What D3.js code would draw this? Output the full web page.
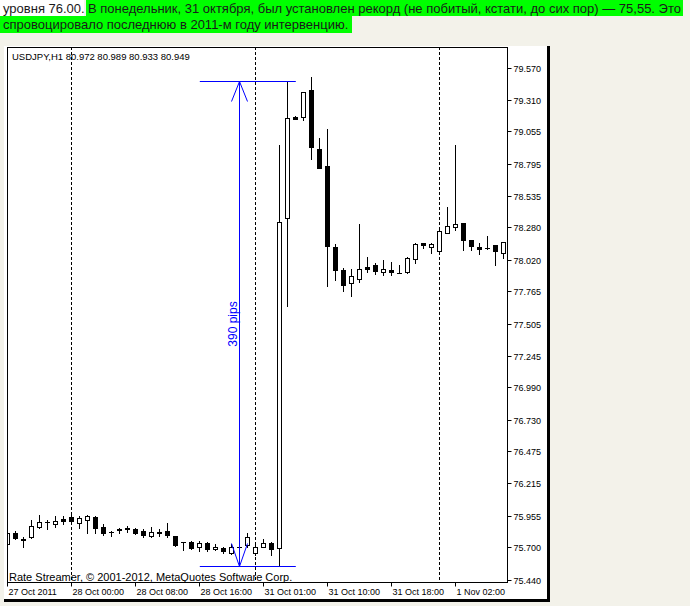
<html>
<head>
<script src="https://d3js.org/d3.v7.min.js"></script>
<style>
body { margin: 0; background: #f3f2ea; }
svg { display: block; }
text { font-family: "Liberation Sans", Arial, sans-serif; }
</style>
</head>
<body>
<script>
// USDJPY H1 bars, 27 Oct 16:00 .. 1 Nov
var opens = [75.726,75.813,75.767,75.780,75.861,75.900,75.888,75.926,75.947,75.898,
             75.920,75.947,75.861,75.826,75.845,75.853,75.845,75.834,75.791,75.821,
             75.834,75.791,75.742,75.745,75.705,75.737,75.684,75.697,75.651,75.705,
             75.722,75.651,75.705,75.737,75.692,78.354,79.173,79.173,79.389,78.913,
             78.775,78.120,77.937,77.829,77.864,77.958,77.977,77.923,77.937,77.913,
             77.923,78.023,78.152,78.120,78.092,78.237,78.281,78.313,78.179,78.120,
             78.117,78.138,78.076];
var highs = [75.826,75.831,75.785,75.920,75.960,75.920,75.952,75.952,75.960,75.952,
             75.960,75.952,75.888,75.834,75.858,75.872,75.853,75.845,75.866,75.845,
             75.898,75.791,75.745,75.751,75.751,75.745,75.726,75.705,75.726,75.726,
             75.813,75.740,75.764,75.745,78.945,79.460,79.176,79.370,79.496,79.004,
             79.074,78.146,77.950,77.945,78.308,78.044,77.995,78.017,78.003,77.977,
             78.039,78.157,78.157,78.157,78.259,78.447,78.945,78.313,78.179,78.152,
             78.211,78.138,78.165];
var lows = [75.656,75.764,75.705,75.772,75.853,75.845,75.866,75.888,75.893,75.853,
            75.813,75.818,75.799,75.791,75.813,75.826,75.807,75.785,75.785,75.791,
            75.785,75.710,75.678,75.684,75.672,75.672,75.678,75.656,75.646,75.694,
            75.705,75.640,75.705,75.638,75.550,77.646,79.155,79.150,78.830,78.762,
            77.810,77.856,77.770,77.729,77.842,77.923,77.902,77.896,77.896,77.913,
            77.910,77.991,78.112,78.076,78.066,78.233,78.259,78.098,78.098,78.066,
            78.104,77.977,78.036];
var closes = [75.813,75.772,75.762,75.872,75.906,75.903,75.914,75.914,75.909,75.934,
              75.952,75.853,75.813,75.824,75.843,75.851,75.818,75.801,75.826,75.813,
              75.799,75.718,75.740,75.692,75.732,75.684,75.705,75.672,75.705,75.703,
              75.783,75.705,75.737,75.684,78.326,79.160,79.157,79.370,78.926,78.762,
              78.133,77.937,77.816,77.888,77.942,77.947,77.931,77.945,77.923,77.915,
              78.031,78.146,78.136,78.146,78.249,78.291,78.308,78.179,78.133,78.109,
              78.115,78.092,78.160];

var priceTicks = [79.570,79.310,79.055,78.795,78.535,78.280,78.020,77.765,77.505,
                  77.245,76.990,76.730,76.475,76.215,75.955,75.700,75.440];
var timeLabels = ["27 Oct 2011","28 Oct 00:00","28 Oct 08:00","28 Oct 16:00",
                  "31 Oct 01:00","31 Oct 10:00","31 Oct 18:00","1 Nov 02:00"];
var timeBars = [0,8,16,24,32,40,48,56];
var daySeparators = [8,31,54];

// the 390 pips measurement
var recordLow = 75.55;
var recordHigh = 79.46;
var measureBars = [24.1, 29, 36.1];
var measureText = "390 pips";

var width = 690;
var height = 606;
var plot = {left: 7, top: 47, right: 507, bottom: 582};

var xScale = d3.scaleLinear()
               .domain([0, 62])
               .range([7, 503]);
var yScale = d3.scaleLinear()
               .domain([75.44, 79.57])
               .range([579.5, 67.5]);

var crisp = function(v) { return Math.round(v) + 0.5; };

var svg = d3.select("body")
            .append("svg")
            .attr("width", width)
            .attr("height", height);

var drawHeader = function()
{
    svg.append("rect").attr("x", 0).attr("y", 0).attr("width", 84).attr("height", 16)
       .attr("fill", "#ffffff");
    svg.append("rect").attr("x", 86).attr("y", 0).attr("width", 597).attr("height", 16)
       .attr("fill", "#00ff00");
    svg.append("rect").attr("x", 0).attr("y", 16).attr("width", 352).attr("height", 17)
       .attr("fill", "#00ff00");

    var t = svg.append("g")
               .attr("font-size", 13)
               .attr("fill", "#1a1a1a");
    t.append("text").attr("x", 3).attr("y", 12.5).text("уровня 76.00.");
    t.append("text").attr("x", 88).attr("y", 12.5)
     .text("В понедельник, 31 октября, был установлен рекорд (не побитый, кстати, до сих пор) — 75,55. Это");
    t.append("text").attr("x", 3).attr("y", 28.5)
     .text("спровоцировало последнюю в 2011-м году интервенцию.");
}

var drawWindow = function()
{
    svg.append("rect").attr("x", 4).attr("y", 46).attr("width", 543).attr("height", 553)
       .attr("fill", "#ffffff");
    svg.append("rect").attr("x", 547).attr("y", 46).attr("width", 3).attr("height", 556)
       .attr("fill", "#000000");
    svg.append("rect").attr("x", 4).attr("y", 599).attr("width", 546).attr("height", 3)
       .attr("fill", "#000000");
}

var drawCandles = function()
{
    svg.append("clipPath")
       .attr("id", "plotclip")
       .append("rect")
       .attr("x", plot.left).attr("y", plot.top)
       .attr("width", plot.right - plot.left).attr("height", plot.bottom - plot.top);

    var g = svg.append("g").attr("clip-path", "url(#plotclip)");

    g.selectAll(".sep")
     .data(daySeparators)
     .enter()
     .append("line")
     .attr("class", "sep")
     .attr("x1", function(d) { return crisp(xScale(d)); })
     .attr("x2", function(d) { return crisp(xScale(d)); })
     .attr("y1", plot.top)
     .attr("y2", plot.bottom)
     .attr("stroke", "black")
     .attr("stroke-dasharray", "3,2");

    var bars = g.selectAll(".bar")
                .data(opens)
                .enter()
                .append("g")
                .attr("class", "bar");

    bars.append("line")
        .attr("x1", function(d, i) { return Math.round(xScale(i)) + 0.5; })
        .attr("x2", function(d, i) { return Math.round(xScale(i)) + 0.5; })
        .attr("y1", function(d, i) { return Math.round(yScale(highs[i])); })
        .attr("y2", function(d, i) { return Math.round(yScale(lows[i])) + 1; })
        .attr("stroke", "black");

    bars.each(function(d, i)
    {
        var cx = Math.round(xScale(i));
        var yt = Math.round(yScale(Math.max(opens[i], closes[i])));
        var yb = Math.round(yScale(Math.min(opens[i], closes[i])));
        var up = closes[i] >= opens[i];
        if (yb - yt < 1)
        {
            d3.select(this).append("line")
              .attr("x1", cx - 2).attr("x2", cx + 3)
              .attr("y1", yt + 0.5).attr("y2", yt + 0.5)
              .attr("stroke", "black");
        }
        else
        {
            d3.select(this).append("rect")
              .attr("x", cx - 1.5)
              .attr("y", yt + 0.5)
              .attr("width", 4)
              .attr("height", yb - yt)
              .attr("fill", up ? "white" : "black")
              .attr("stroke", "black");
        }
    });
}

var drawMeasure = function()
{
    var m = svg.append("g")
               .attr("stroke", "#0000ff")
               .attr("fill", "none");
    var xa = xScale(measureBars[0]), xm = crisp(xScale(measureBars[1])), xb = xScale(measureBars[2]);
    var yh = crisp(yScale(recordHigh)), yl = crisp(yScale(recordLow));

    m.append("line").attr("x1", xa).attr("x2", xb).attr("y1", yh).attr("y2", yh);
    m.append("line").attr("x1", xa).attr("x2", xb).attr("y1", yl).attr("y2", yl);
    m.append("line").attr("x1", xm).attr("x2", xm).attr("y1", yh).attr("y2", yl);
    m.append("path").attr("d", "M" + (xm - 8) + "," + (yh + 20) + "L" + xm + "," + yh + "L" + (xm + 8) + "," + (yh + 20));
    m.append("path").attr("d", "M" + (xm - 8) + "," + (yl - 23) + "L" + xm + "," + yl + "L" + (xm + 8) + "," + (yl - 23));

    svg.append("text")
       .attr("transform", "translate(" + (xm - 3) + "," + ((yh + yl) / 2) + ") rotate(-90)")
       .attr("text-anchor", "middle")
       .attr("font-size", 12)
       .attr("fill", "#0000ff")
       .text(measureText);
}

var drawAxes = function()
{
    var yAxis = d3.axisRight(yScale)
                  .tickValues(priceTicks)
                  .tickSize(4)
                  .tickPadding(2)
                  .tickFormat(d3.format(".3f"));
    var ya = svg.append("g")
                .attr("transform", "translate(" + (plot.right + 0.5) + ",0)")
                .call(yAxis);
    ya.select(".domain").remove();
    ya.selectAll(".tick").attr("transform", function(d) { return "translate(0," + crisp(yScale(d)) + ")"; });
    ya.selectAll("text").attr("font-size", 9).attr("font-family", "Liberation Sans, Arial, sans-serif")
      .attr("fill", "#000").attr("dy", "0.36em");
    ya.selectAll("line").attr("stroke", "#000");

    var xAxis = d3.axisBottom(xScale)
                  .tickValues(timeBars)
                  .tickSize(4)
                  .tickPadding(2)
                  .tickFormat(function(d, i) { return timeLabels[i]; });
    var xa = svg.append("g")
                .attr("transform", "translate(0," + (plot.bottom + 0.5) + ")")
                .call(xAxis);
    xa.select(".domain").remove();
    xa.selectAll(".tick").attr("transform", function(d) { return "translate(" + crisp(xScale(d)) + ",0)"; });
    xa.selectAll("text").attr("font-size", 9).attr("font-family", "Liberation Sans, Arial, sans-serif")
      .attr("fill", "#000").attr("text-anchor", "start").attr("x", 1);
    xa.selectAll("line").attr("stroke", "#000");

    svg.append("rect")
       .attr("x", plot.left + 0.5).attr("y", plot.top + 0.5)
       .attr("width", plot.right - plot.left).attr("height", plot.bottom - plot.top)
       .attr("fill", "none").attr("stroke", "black");
}

var drawLabels = function()
{
    svg.append("text")
       .attr("x", 12).attr("y", 59.5)
       .attr("font-size", 9.5)
       .attr("fill", "#000")
       .text("USDJPY,H1 80.972 80.989 80.933 80.949");

    svg.append("text")
       .attr("x", 9).attr("y", 581)
       .attr("font-size", 11)
       .attr("fill", "#000")
       .text("Rate Streamer, © 2001-2012, MetaQuotes Software Corp.");
}

drawHeader();
drawWindow();
drawCandles();
drawMeasure();
drawAxes();
drawLabels();
</script>
</body>
</html>
